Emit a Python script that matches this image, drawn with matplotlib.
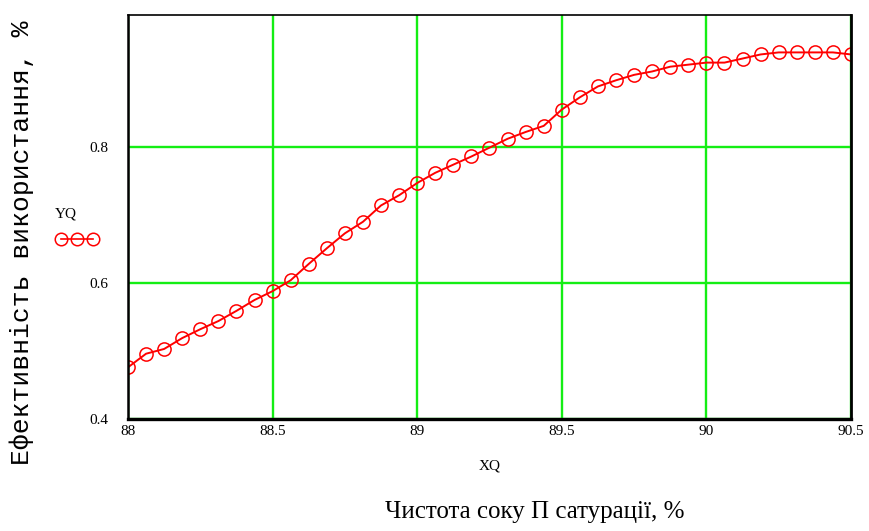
import matplotlib
matplotlib.use("Agg")
import matplotlib.pyplot as plt
from matplotlib.lines import Line2D

# Data
xq = [88.0, 88.0625, 88.125, 88.1875, 88.25, 88.3125, 88.375, 88.4375,
      88.5, 88.5625, 88.625, 88.6875, 88.75, 88.8125, 88.875, 88.9375,
      89.0, 89.0625, 89.125, 89.1875, 89.25, 89.3125, 89.375, 89.4375,
      89.5, 89.5625, 89.625, 89.6875, 89.75, 89.8125, 89.875, 89.9375,
      90.0, 90.0625, 90.125, 90.1875, 90.25, 90.3125, 90.375, 90.4375, 90.5]
yq = [0.476, 0.496, 0.503, 0.519, 0.532, 0.544, 0.559, 0.575,
      0.588, 0.604, 0.628, 0.651, 0.673, 0.690, 0.714, 0.729,
      0.747, 0.762, 0.774, 0.786, 0.799, 0.812, 0.822, 0.831,
      0.855, 0.873, 0.889, 0.898, 0.906, 0.911, 0.918, 0.921,
      0.924, 0.924, 0.930, 0.936, 0.939, 0.939, 0.939, 0.939, 0.936]
x_ticks = [88, 88.5, 89, 89.5, 90, 90.5]
x_tick_labels = ["88", "88.5", "89", "89.5", "90", "90.5"]
y_ticks = [0.4, 0.6, 0.8]
y_tick_labels = ["0.4", "0.6", "0.8"]

RED = "#ff0000"
GREEN = "#14ee14"

fig = plt.figure(figsize=(8.69, 5.31), dpi=100)
ax = fig.add_axes([128/869, 1-419/531, (851-128)/869, (419-15)/531])

ax.plot(xq, yq, color=RED, lw=1.4, marker="o", markersize=9.5,
        markerfacecolor="none", markeredgecolor=RED, markeredgewidth=1.1,
        clip_on=True, zorder=3)

ax.set_xlim(88, 90.5)
ax.set_ylim(0.4, 0.994)
ax.set_xticks(x_ticks)
ax.set_xticklabels(x_tick_labels, family="Liberation Serif", fontsize=11)
ax.set_yticks(y_ticks)
ax.set_yticklabels(y_tick_labels, family="Liberation Serif", fontsize=11)
ax.tick_params(axis="both", length=0)
ax.tick_params(axis="x", pad=4)
ax.tick_params(axis="y", pad=14)
ax.grid(True, color=GREEN, lw=1.7, zorder=1)
ax.set_axisbelow(True)

for side, w in [("left", 1.8), ("bottom", 2.4), ("top", 1.2), ("right", 2.0)]:
    ax.spines[side].set_color("black")
    ax.spines[side].set_linewidth(w)
    ax.spines[side].set_zorder(4)

ax.set_xlabel("XQ", family="Liberation Serif", fontsize=11, labelpad=16)

# Trace legend like Mathcad: name above, three markers below
handle = Line2D([], [], color=RED, lw=1.2, marker="o", markersize=9,
                markerfacecolor="none", markeredgecolor=RED, markeredgewidth=1.1)
leg = fig.legend([handle], [""], numpoints=3, frameon=False,
                 loc="center", bbox_to_anchor=(77/869, 1-240/531),
                 handlelength=2.9, handletextpad=0, borderpad=0,
                 borderaxespad=0)
fig.text(66/869, 1-214/531, "YQ", ha="center", va="center",
         family="Liberation Serif", fontsize=11)

fig.text(22/869, 1-243/531, "Ефективність використання, %",
         rotation=90, ha="center", va="center",
         family="Liberation Mono", fontsize=19)
fig.text(535/869, 1-512/531, "Чистота соку П сатурації, %",
         ha="center", va="center", family="Liberation Serif", fontsize=18)

fig.savefig("out.png", dpi=100)
